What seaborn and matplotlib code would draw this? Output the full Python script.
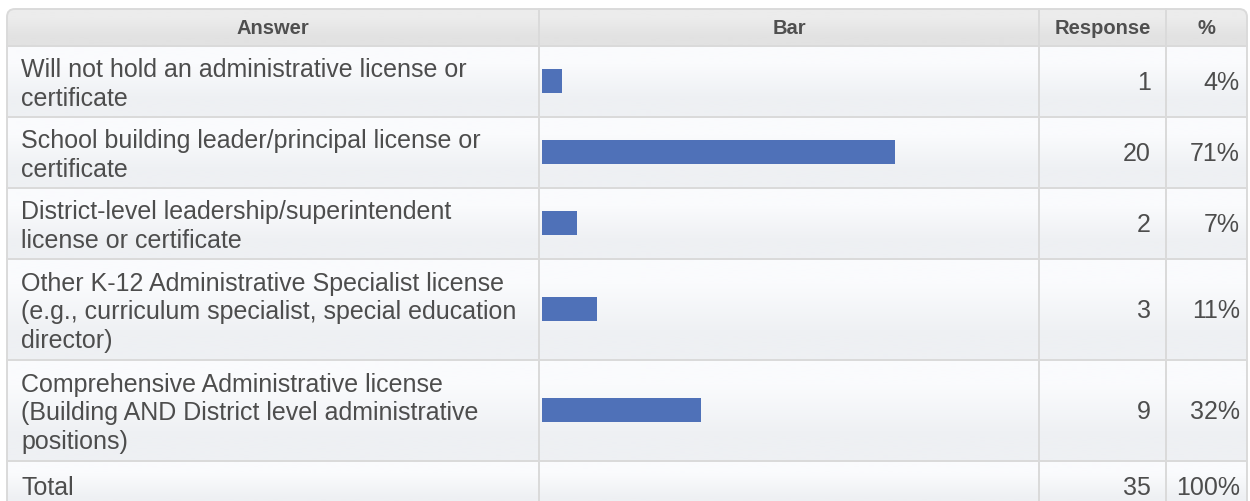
import numpy as np
import matplotlib
matplotlib.use("Agg")
import matplotlib.pyplot as plt
from matplotlib.patches import FancyBboxPatch
import seaborn as sns

# ---- data ----
answers = [
    "Will not hold an administrative license or\ncertificate",
    "School building leader/principal license or\ncertificate",
    "District-level leadership/superintendent\nlicense or certificate",
    "Other K-12 Administrative Specialist license\n(e.g., curriculum specialist, special education\ndirector)",
    "Comprehensive Administrative license\n(Building AND District level administrative\npositions)",
]
responses = [1, 20, 2, 3, 9]
percents = [4, 71, 7, 11, 32]
headers = ["Answer", "Bar", "Response", "%"]
total_label = "Total"
total_responses = 35
total_percent = 100

# ---- layout (pixels, y grows downward) ----
W, H = 1250, 502
col_edges = [7, 539, 1039, 1166, 1247]
header_top, header_bottom = 10, 47
row_heights = [11 + 30 * a.count("\n") + 30 for a in answers] + [50]
row_edges = [header_bottom]
for h in row_heights:
    row_edges.append(row_edges[-1] + h)
row_centers = [(row_edges[i] + row_edges[i + 1]) / 2 for i in range(len(answers))]

BAR_COLOR = "#4f71b8"
TEXT_COLOR = "#4d4d4d"
HEAD_COLOR = "#4f4f4f"
GRID_COLOR = "#dadada"
BODY_SIZE = 18

plt.rcParams["font.family"] = ["Liberation Sans", "DejaVu Sans"]

fig = plt.figure(figsize=(W / 100, H / 100), dpi=100)
fig.patch.set_facecolor("white")
bg = fig.add_axes([0, 0, 1, 1])
bg.set_xlim(0, W)
bg.set_ylim(H, 0)
bg.axis("off")

# rounded outline of the whole table
outline = FancyBboxPatch((col_edges[0], header_top), col_edges[-1] - col_edges[0],
                         600, boxstyle="round,pad=0,rounding_size=8",
                         facecolor="none", edgecolor=GRID_COLOR, linewidth=1.4,
                         zorder=5)
bg.add_patch(outline)


def gradient(y0, y1, top, bottom):
    c0 = np.array(matplotlib.colors.to_rgb(top))
    c1 = np.array(matplotlib.colors.to_rgb(bottom))
    arr = np.stack([c0, c1])[:, None, :]
    im = bg.imshow(arr, extent=(col_edges[0], col_edges[-1], y1, y0),
                   aspect="auto", interpolation="bilinear", zorder=1)
    im.set_clip_path(outline)


gradient(header_top, header_bottom, "#ececec", "#e2e2e2")
for i in range(len(row_heights)):
    gradient(row_edges[i], row_edges[i + 1], "#fafbfd", "#eef0f3")

# grid lines
for y in [header_bottom] + row_edges[1:]:
    bg.plot([col_edges[0], col_edges[-1]], [y, y], color=GRID_COLOR, lw=1.4, zorder=4)
for x in col_edges[1:-1]:
    bg.plot([x, x], [header_top, H + 10], color=GRID_COLOR, lw=1.4, zorder=4)

# header labels
hy = (header_top + header_bottom) / 2
for i, label in enumerate(headers):
    cx = (col_edges[i] + col_edges[i + 1]) / 2
    bg.text(cx, hy + 0.5, label, ha="center", va="center", fontsize=14.5,
            fontweight="bold", color=HEAD_COLOR, zorder=6)

# body rows
for ans, n, p, cy in zip(answers, responses, percents, row_centers):
    bg.text(21, cy + 2, ans, ha="left", va="center", fontsize=BODY_SIZE,
            color=TEXT_COLOR, linespacing=1.26, zorder=6)
    bg.text(col_edges[2] + 112, cy + 1, f"{n}", ha="right", va="center",
            fontsize=BODY_SIZE, color=TEXT_COLOR, zorder=6)
    bg.text(col_edges[3] + 74, cy + 1, f"{p}%", ha="right", va="center",
            fontsize=BODY_SIZE, color=TEXT_COLOR, zorder=6)

ty = row_edges[-2] + 26
bg.text(21, ty, total_label, ha="left", va="center", fontsize=BODY_SIZE,
        color=TEXT_COLOR, zorder=6)
bg.text(col_edges[2] + 112, ty, f"{total_responses}", ha="right", va="center",
        fontsize=BODY_SIZE, color=TEXT_COLOR, zorder=6)
bg.text(col_edges[3] + 74, ty, f"{total_percent}%", ha="right", va="center",
        fontsize=BODY_SIZE, color=TEXT_COLOR, zorder=6)

# bars, drawn in their own axes over the "Bar" column
bar_left, bar_right = 542, 1039
body_top, body_bottom = header_bottom, row_edges[len(answers)]
bax = fig.add_axes([bar_left / W, (H - body_bottom) / H,
                    (bar_right - bar_left) / W, (body_bottom - body_top) / H])
min_gap = np.min(np.diff(row_centers))
sns.barplot(x=percents, y=row_centers, orient="y", native_scale=True,
            width=24 / min_gap, color=BAR_COLOR, saturation=1,
            errorbar=None, linewidth=0, ax=bax)
bax.set_xlim(0, 100)
bax.set_ylim(body_bottom, body_top)
bax.axis("off")
bax.patch.set_alpha(0)

fig.savefig("out.png", dpi=100)
